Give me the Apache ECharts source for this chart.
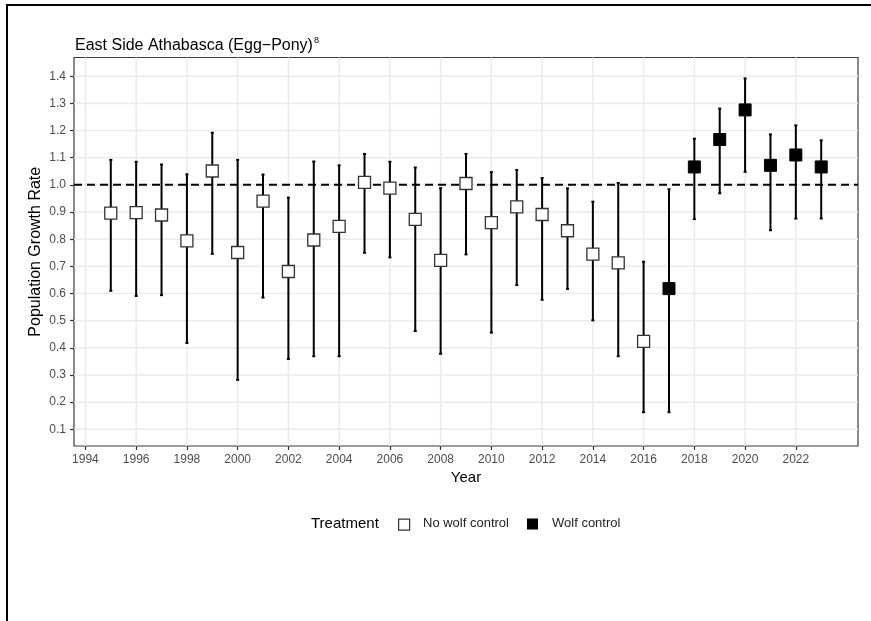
<!DOCTYPE html>
<html>
<head>
<meta charset="utf-8">
<title>East Side Athabasca (Egg−Pony)</title>
<script src="https://cdn.jsdelivr.net/npm/echarts@6/dist/echarts.min.js"></script>
<style>
  html, body { margin: 0; padding: 0; background: #fff; }
  #chart { width: 871px; height: 621px; }
</style>
</head>
<body>
<div id="chart"></div>
<script>
// Annual population growth rate (lambda) with 90% interval, by treatment
const years = [1995, 1996, 1997, 1998, 1999, 2000, 2001, 2002, 2003, 2004,
               2005, 2006, 2007, 2008, 2009, 2010, 2011, 2012, 2013, 2014,
               2015, 2016, 2017, 2018, 2019, 2020, 2021, 2022, 2023];
const growthRate = [0.896, 0.898, 0.889, 0.794, 1.051, 0.751, 0.940, 0.681, 0.797, 0.847,
                    1.009, 0.988, 0.873, 0.722, 1.005, 0.861, 0.919, 0.891, 0.831, 0.745,
                    0.713, 0.424, 0.618, 1.066, 1.167, 1.276, 1.072, 1.110, 1.066];
const lowerCI = [0.610, 0.591, 0.594, 0.418, 0.746, 0.282, 0.585, 0.359, 0.369, 0.369,
                 0.750, 0.733, 0.462, 0.378, 0.744, 0.456, 0.631, 0.577, 0.617, 0.501,
                 0.369, 0.163, 0.163, 0.874, 0.969, 1.048, 0.833, 0.876, 0.876];
const upperCI = [1.092, 1.085, 1.075, 1.039, 1.192, 1.092, 1.038, 0.953, 1.086, 1.072,
                 1.114, 1.085, 1.064, 0.988, 1.114, 1.047, 1.055, 1.025, 0.987, 0.938,
                 1.007, 0.717, 0.984, 1.170, 1.281, 1.392, 1.186, 1.219, 1.164];
const treatment = [
  'No wolf control', 'No wolf control', 'No wolf control', 'No wolf control', 'No wolf control',
  'No wolf control', 'No wolf control', 'No wolf control', 'No wolf control', 'No wolf control',
  'No wolf control', 'No wolf control', 'No wolf control', 'No wolf control', 'No wolf control',
  'No wolf control', 'No wolf control', 'No wolf control', 'No wolf control', 'No wolf control',
  'No wolf control', 'No wolf control', 'Wolf control', 'Wolf control', 'Wolf control',
  'Wolf control', 'Wolf control', 'Wolf control', 'Wolf control'];

// Axis tick positions
const yearTicks = [1994, 1996, 1998, 2000, 2002, 2004, 2006, 2008, 2010,
                   2012, 2014, 2016, 2018, 2020, 2022];
const rateTicks = [0.1, 0.2, 0.3, 0.4, 0.5, 0.6, 0.7, 0.8, 0.9, 1.0, 1.1, 1.2, 1.3, 1.4];
const stableRate = 1.0;

const FONT = '"Liberation Sans", Arial, Helvetica, sans-serif';

const pointsFor = (group) => years
  .map((y, i) => [y, growthRate[i], treatment[i]])
  .filter(d => d[2] === group)
  .map(d => [d[0], d[1]]);

const chart = echarts.init(document.getElementById('chart'), null, { renderer: 'canvas' });

const option = {
  animation: false,
  backgroundColor: '#fff',
  textStyle: { fontFamily: FONT },
  title: {
    text: '{t|East Side Athabasca (Egg−Pony)}{s|8}',
    left: 70,
    top: 31,
    textStyle: {
      fontWeight: 'normal',
      rich: {
        t: { fontFamily: FONT, fontSize: 16, fontWeight: 'normal', color: '#000', lineHeight: 20 },
        s: { fontFamily: FONT, fontSize: 9, fontWeight: 'normal', color: '#000', verticalAlign: 'top',
             lineHeight: 20, padding: [0, 0, 6, 1] }
      }
    }
  },
  grid: {
    left: 74, top: 57.5, width: 784, height: 388.5,
    show: true, backgroundColor: '#fff', borderColor: '#3a3a3a', borderWidth: 1.2
  },
  xAxis: {
    type: 'value',
    min: 1993.55, max: 2024.45,
    name: 'Year',
    nameLocation: 'middle',
    nameGap: 24,
    nameMoveOverlap: false,
    nameTextStyle: { fontFamily: FONT, fontSize: 15, color: '#000' },
    axisLine: { show: false },
    splitLine: { show: false },
    axisTick: { show: true, length: 4, lineStyle: { color: '#333', width: 1.2 }, customValues: yearTicks },
    axisLabel: {
      show: true, customValues: yearTicks, margin: 8,
      fontFamily: FONT, fontSize: 12, color: '#4d4d4d',
      formatter: v => String(v)
    }
  },
  yAxis: {
    type: 'value',
    min: 0.0385, max: 1.469,
    name: 'Population Growth Rate',
    nameLocation: 'middle',
    nameGap: 30,
    nameMoveOverlap: false,
    nameTextStyle: { fontFamily: FONT, fontSize: 16, color: '#000' },
    axisLine: { show: false },
    splitLine: { show: false },
    axisTick: { show: true, length: 4, lineStyle: { color: '#333', width: 1.2 }, customValues: rateTicks },
    axisLabel: {
      show: true, customValues: rateTicks, margin: 8,
      fontFamily: FONT, fontSize: 12, color: '#4d4d4d',
      formatter: v => Number(v).toFixed(1)
    }
  },
  series: [
    {
      // panel grid lines and the lambda = 1 reference line
      type: 'custom',
      name: 'panel',
      silent: true,
      z: 1,
      data: [[yearTicks[0], stableRate]],
      encode: { x: 0, y: 1 },
      renderItem: (params, api) => {
        const cs = params.coordSys;
        const children = [];
        yearTicks.forEach(t => {
          const px = api.coord([t, stableRate])[0];
          children.push({ type: 'line', shape: { x1: px, y1: cs.y, x2: px, y2: cs.y + cs.height },
                          style: { stroke: '#ebebeb', lineWidth: 1.5 } });
        });
        rateTicks.forEach(t => {
          const py = api.coord([yearTicks[0], t])[1];
          children.push({ type: 'line', shape: { x1: cs.x, y1: py, x2: cs.x + cs.width, y2: py },
                          style: { stroke: '#ebebeb', lineWidth: 1.5 } });
        });
        const ry = api.coord([yearTicks[0], stableRate])[1];
        children.push({ type: 'line', shape: { x1: cs.x, y1: ry, x2: cs.x + cs.width, y2: ry },
                        style: { stroke: '#000', lineWidth: 2, lineDash: [8, 5] } });
        return { type: 'group', children };
      }
    },
    {
      type: 'custom',
      name: 'interval',
      silent: true,
      z: 3,
      data: years.map((y, i) => [y, lowerCI[i], upperCI[i]]),
      encode: { x: 0, y: [1, 2] },
      renderItem: (params, api) => {
        const x = api.value(0);
        const lo = api.coord([x, api.value(1)]);
        const hi = api.coord([x, api.value(2)]);
        const cap = 1.5;
        const st = { stroke: '#000', lineWidth: 2 };
        return {
          type: 'group',
          children: [
            { type: 'line', shape: { x1: lo[0], y1: lo[1], x2: hi[0], y2: hi[1] }, style: st },
            { type: 'line', shape: { x1: lo[0] - cap, y1: lo[1], x2: lo[0] + cap, y2: lo[1] }, style: st },
            { type: 'line', shape: { x1: hi[0] - cap, y1: hi[1], x2: hi[0] + cap, y2: hi[1] }, style: st }
          ]
        };
      }
    },
    {
      type: 'scatter',
      name: 'No wolf control',
      z: 4,
      symbol: 'rect',
      symbolSize: 12,
      itemStyle: { color: '#fff', borderColor: '#333', borderWidth: 1.3, opacity: 1 },
      data: pointsFor('No wolf control')
    },
    {
      type: 'scatter',
      name: 'Wolf control',
      z: 4,
      symbol: 'rect',
      symbolSize: 12,
      itemStyle: { color: '#000', borderColor: '#000', borderWidth: 1, opacity: 1 },
      data: pointsFor('Wolf control')
    }
  ],
  graphic: [
    // outer frame (top and left edges)
    { type: 'rect', left: 6, top: 4, shape: { width: 865, height: 2 }, style: { fill: '#000' } },
    { type: 'rect', left: 6, top: 4, shape: { width: 2, height: 617 }, style: { fill: '#000' } },
    // legend
    { type: 'text', left: 311, top: 516, style: { text: 'Treatment', font: '15px ' + FONT, fill: '#000' } },
    { type: 'rect', left: 398, top: 518.5, shape: { width: 11, height: 11 }, style: { fill: '#fff', stroke: '#333', lineWidth: 1.2 } },
    { type: 'text', left: 423, top: 517, style: { text: 'No wolf control', font: '13px ' + FONT, fill: '#222' } },
    { type: 'rect', left: 527, top: 518.5, shape: { width: 11, height: 11 }, style: { fill: '#000' } },
    { type: 'text', left: 552, top: 517, style: { text: 'Wolf control', font: '13px ' + FONT, fill: '#222' } }
  ]
};

chart.setOption(option);
</script>
</body>
</html>
